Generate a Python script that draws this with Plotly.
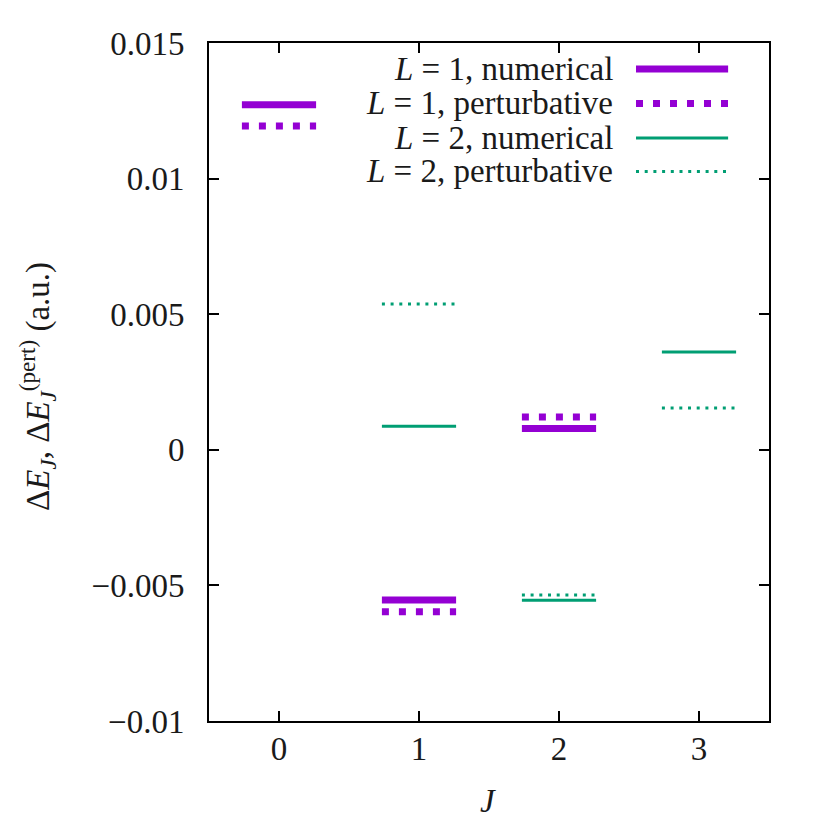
import plotly.graph_objects as go

# Data
J_L1 = [0, 1, 2]
L1_numerical = [0.01272, -0.00554, 0.00079]
L1_perturbative = [0.01194, -0.00597, 0.00121]

J_L2 = [1, 2, 3]
L2_numerical = [0.00087, -0.00555, 0.00361]
L2_perturbative = [0.00538, -0.00535, 0.00154]

x_ticks = [0, 1, 2, 3]
y_ticks = [-0.01, -0.005, 0, 0.005, 0.01, 0.015]
y_tick_labels = ["\u22120.01", "\u22120.005", "0", "0.005", "0.01", "0.015"]

legend_labels = [
    "<i>L</i> = 1, numerical",
    "<i>L</i> = 1, perturbative",
    "<i>L</i> = 2, numerical",
    "<i>L</i> = 2, perturbative",
]

PURPLE = "#9400D3"
GREEN = "#009E73"
HW = 0.265  # half width of level segments
FONT = "Liberation Serif"
FS = 33
TXT = "#1a1a1a"


def segs(js, vals):
    xs, ys = [], []
    for j, v in zip(js, vals):
        xs += [j - HW, j + HW, None]
        ys += [v, v, None]
    return xs, ys


styles = [
    (J_L1, L1_numerical, PURPLE, 7, "solid"),
    (J_L1, L1_perturbative, PURPLE, 7, "7px,10px"),
    (J_L2, L2_numerical, GREEN, 3, "solid"),
    (J_L2, L2_perturbative, GREEN, 3, "3px,5.7px"),
]

fig = go.Figure()
for (js, vals, col, w, dash), name in zip(styles, legend_labels):
    xs, ys = segs(js, vals)
    fig.add_trace(go.Scatter(x=xs, y=ys, mode="lines", name=name,
                             line=dict(color=col, width=w, dash=dash),
                             showlegend=False, hoverinfo="skip"))

# manual legend: text right-aligned, sample line on the right
row_y = [0.9617, 0.9108, 0.8599, 0.8105]
for (js, vals, col, w, dash), name, ry in zip(styles, legend_labels, row_y):
    fig.add_annotation(x=0.725, y=ry, xref="paper", yref="paper",
                       text=name, showarrow=False, xanchor="right", yanchor="middle",
                       font=dict(family=FONT, size=FS, color=TXT))
    fig.add_shape(type="line", xref="paper", yref="paper",
                  x0=0.7625, x1=0.927, y0=ry, y1=ry,
                  line=dict(color=col, width=w, dash=dash))

# axis titles
fig.add_annotation(x=(487 - 208) / 560, y=-(800 - 720) / 678, xref="paper", yref="paper",
                   text="<i>J</i>", showarrow=False, xanchor="center", yanchor="middle",
                   font=dict(family=FONT, size=FS, color=TXT))
fig.add_annotation(x=-(208 - 36) / 560, y=(720 - 386) / 678, xref="paper", yref="paper",
                   text="\u0394<i>E</i><sub><i>J</i></sub>, \u0394<i>E</i><sub><i>J</i></sub><sup>(pert)</sup> (a.u.)",
                   textangle=-90, showarrow=False, xanchor="center", yanchor="middle",
                   font=dict(family=FONT, size=FS, color=TXT))

axis_common = dict(showgrid=False, zeroline=False, showline=True, linecolor="black",
                   linewidth=2, mirror="ticks", ticks="inside", ticklen=10,
                   tickwidth=1.5, tickcolor="black",
                   tickfont=dict(family=FONT, size=FS, color=TXT))

fig.update_xaxes(range=[-0.5, 3.5], tickvals=x_ticks, ticktext=[str(t) for t in x_ticks],
                 ticklabelstandoff=-3, **axis_common)
fig.update_yaxes(range=[-0.01, 0.015], tickvals=y_ticks, ticktext=y_tick_labels,
                 ticklabelstandoff=16, **axis_common)

fig.update_layout(width=830, height=830, margin=dict(l=201, r=69, t=35, b=117),
                  paper_bgcolor="white", plot_bgcolor="white", showlegend=False)

fig.write_html("out.html")
